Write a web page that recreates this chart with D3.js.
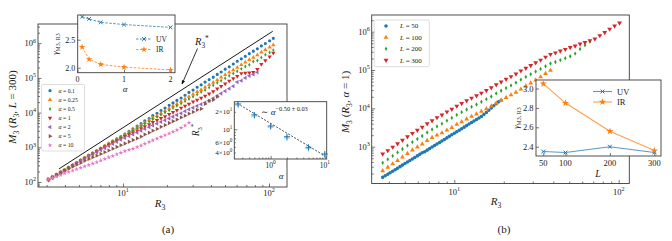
<!DOCTYPE html>
<html>
<head>
<meta charset="utf-8">
<script src="https://cdn.jsdelivr.net/npm/d3@7"></script>
<style>
  body { margin: 0; background: #fff; }
  svg { display: block; }
</style>
</head>
<body>
<script>
// ---------- panel (a): M3 vs R3 at L = 300, one series per alpha ----------
// M3 values are stored as log10(M3)
const alphaLabels = ["0.1", "0.25", "0.5", "1", "2", "5", "10"];
const rA = [3.09, 3.29, 3.51, 3.74, 3.98, 4.24, 4.52, 4.81, 5.13, 5.46, 5.82, 6.20, 6.61, 7.04, 7.50, 7.99, 8.51, 9.07, 9.66, 10.3,
  11.0, 11.7, 12.5, 13.3, 14.1, 15.1, 16.0, 17.1, 18.2, 19.4, 20.7, 22.0, 23.4, 25.0, 26.6, 28.3, 30.2, 32.2, 34.3, 36.5,
  38.9, 41.5, 44.2, 47.0, 50.1, 53.4, 56.9, 60.6, 64.6, 68.8, 73.3, 78.1, 83.2, 88.6, 94.4, 101, 107];
const logM_a01 = [2.08, 2.15, 2.22, 2.29, 2.35, 2.42, 2.49, 2.56, 2.63, 2.70, 2.77, 2.83, 2.90, 2.97, 3.04, 3.11, 3.18, 3.24, 3.31, 3.38,
  3.46, 3.53, 3.61, 3.68, 3.76, 3.83, 3.91, 3.98, 4.06, 4.13, 4.21, 4.28, 4.35, 4.42, 4.50, 4.58, 4.65, 4.73, 4.80, 4.88,
  4.95, 5.02, 5.10, 5.17, 5.25, 5.32, 5.40, 5.48, 5.55, 5.62, 5.70, 5.77, 5.84, 5.92, 5.99, 6.07, 6.14];
const logM_a025 = [2.07, 2.14, 2.21, 2.28, 2.34, 2.41, 2.48, 2.55, 2.62, 2.69, 2.76, 2.82, 2.89, 2.96, 3.03, 3.10, 3.17, 3.23, 3.30, 3.37,
  3.44, 3.50, 3.57, 3.64, 3.71, 3.78, 3.85, 3.91, 3.98, 4.05, 4.12, 4.19, 4.25, 4.32, 4.39, 4.46, 4.53, 4.60, 4.66, 4.73,
  4.80, 4.87, 4.94, 5.02, 5.09, 5.16, 5.23, 5.30, 5.38, 5.45, 5.52, 5.59, 5.66, 5.74, 5.81, 5.88, 5.95];
const logM_a05 = [2.07, 2.13, 2.20, 2.27, 2.34, 2.41, 2.48, 2.54, 2.61, 2.68, 2.75, 2.82, 2.89, 2.96, 3.02, 3.09, 3.15, 3.22, 3.28, 3.35,
  3.42, 3.48, 3.55, 3.61, 3.68, 3.74, 3.81, 3.87, 3.94, 4.00, 4.07, 4.13, 4.20, 4.26, 4.33, 4.39, 4.46, 4.52, 4.59, 4.65,
  4.72, 4.79, 4.86, 4.92, 4.99, 5.06, 5.13, 5.19, 5.26, 5.33, 5.38, 5.47, 5.50, 5.59, 5.67, 5.73, 5.80];
const logM_a1 = [2.06, 2.13, 2.20, 2.27, 2.33, 2.40, 2.47, 2.54, 2.61, 2.68, 2.75, 2.81, 2.88, 2.95, 3.01, 3.07, 3.13, 3.19, 3.25, 3.31,
  3.37, 3.42, 3.48, 3.54, 3.60, 3.66, 3.72, 3.78, 3.84, 3.89, 3.95, 4.01, 4.07, 4.13, 4.19, 4.25, 4.31, 4.36, 4.42, 4.48,
  4.54, 4.61, 4.69, 4.76, 4.83, 4.91, 4.98, 5.05, 5.13, 5.14, 5.15, 5.16, 5.25, 5.39, 5.50, 5.61, 5.72];
const logM_a2 = [2.06, 2.13, 2.20, 2.27, 2.33, 2.40, 2.47, 2.54, 2.61, 2.68, 2.75, 2.80, 2.86, 2.92, 2.98, 3.04, 3.10, 3.16, 3.22, 3.27,
  3.32, 3.37, 3.42, 3.48, 3.53, 3.58, 3.63, 3.68, 3.73, 3.78, 3.83, 3.88, 3.93, 3.98, 4.04, 4.09, 4.14, 4.19, 4.24, 4.29,
  4.34, 4.41, 4.48, 4.55, 4.62, 4.69, 4.76, 4.88, 4.92, 5.00, 5.06, 5.10, 5.16];
const logM_a5 = [2.08, 2.14, 2.20, 2.26, 2.33, 2.39, 2.45, 2.50, 2.55, 2.61, 2.66, 2.71, 2.76, 2.81, 2.86, 2.91, 2.96, 3.01, 3.06, 3.11,
  3.16, 3.21, 3.26, 3.31, 3.37, 3.42, 3.48, 3.53, 3.59, 3.64, 3.70, 3.75, 3.80, 3.86, 3.91, 3.97, 4.02, 4.08, 4.11, 4.25,
  4.34, 4.37, 4.46];
const logM_a10 = [2.08, 2.12, 2.16, 2.20, 2.25, 2.29, 2.33, 2.37, 2.41, 2.45, 2.49, 2.53, 2.57, 2.62, 2.66, 2.71, 2.75, 2.80, 2.84, 2.89,
  2.93, 2.96, 3.01, 3.05, 3.10, 3.15, 3.20, 3.25, 3.30, 3.35, 3.40, 3.45, 3.50, 3.56, 3.63, 3.71];
// straight guide line drawn above the data
const refR = [3.65, 106];
const refM = [240, 2.2e6];

// inset: gamma exponents vs alpha
const alphaGamma = [0.1, 0.25, 0.5, 1, 2];
const gammaUV_alpha = [2.91, 2.87, 2.81, 2.77, 2.72];
const gammaIR_alpha = [2.37, 2.15, 2.06, 2.01, 1.96];

// inset: crossover R3* vs alpha
const alphaStar = [0.25, 0.5, 1, 2, 5, 10];
const rStar = [27.3, 17.7, 11.4, 7.45, 4.9, 3.75];
const fitAlpha = [0.24, 10];
const fitRStar = [28, 3.5];

// ---------- panel (b): M3 vs R3 at alpha = 1, one series per L ----------
const rB = [3.67, 3.94, 4.22, 4.52, 4.84, 5.19, 5.56, 5.96, 6.38, 6.84, 7.33, 7.85, 8.41, 9.02, 9.66, 10.35, 11.09, 11.89, 12.74, 13.65,
  14.62, 15.67, 16.79, 17.99, 19.28, 20.65, 22.13, 23.71, 25.41, 27.23, 29.17, 31.26, 33.50, 35.89, 38.46, 41.21, 44.16, 47.32, 50.70, 54.33,
  58.21, 62.37, 66.83, 71.61, 76.74, 82.22, 88.10, 94.41, 101.2];
const rB50 = [3.67, 3.80, 3.94, 4.07, 4.22, 4.37, 4.52, 4.68, 4.84, 5.01, 5.19, 5.37, 5.56, 5.75, 5.96, 6.17, 6.38, 6.61, 6.84, 7.08,
  7.33, 7.59, 7.85, 8.13, 8.41, 8.71, 9.02, 9.33, 9.66, 10.0, 10.35, 10.72, 11.09, 11.48, 11.89, 12.30, 12.74, 13.18, 13.65, 14.13,
  14.62, 15.14, 15.67, 16.22, 16.79, 17.38, 17.99, 18.62, 19.28];
const lLabels = ["50", "100", "200", "300"];
const logM_L50 = [2.20, 2.24, 2.28, 2.32, 2.36, 2.40, 2.44, 2.48, 2.52, 2.56, 2.60, 2.64, 2.68, 2.72, 2.76, 2.80, 2.84, 2.87, 2.91, 2.95,
  2.99, 3.03, 3.07, 3.11, 3.15, 3.19, 3.23, 3.27, 3.31, 3.35, 3.39, 3.43, 3.47, 3.51, 3.55, 3.59, 3.63, 3.67, 3.71, 3.75,
  3.79, 3.84, 3.89, 3.95, 4.01, 4.07, 4.12, 4.17, 4.21];
const logM_L100 = [2.37, 2.46, 2.55, 2.64, 2.73, 2.82, 2.91, 2.99, 3.07, 3.16, 3.24, 3.30, 3.36, 3.43, 3.50, 3.58, 3.65, 3.72, 3.79, 3.85,
  3.92, 3.99, 4.06, 4.14, 4.21, 4.28, 4.35, 4.42, 4.50, 4.58, 4.66, 4.74, 4.82, 4.91, 4.99];
const logM_L200 = [2.58, 2.67, 2.76, 2.85, 2.94, 3.03, 3.12, 3.20, 3.28, 3.37, 3.45, 3.53, 3.60, 3.68, 3.75, 3.83, 3.90, 3.97, 4.04, 4.10,
  4.17, 4.24, 4.31, 4.39, 4.46, 4.53, 4.60, 4.67, 4.75, 4.82, 4.89, 4.96, 5.03, 5.10, 5.17, 5.21, 5.26, 5.31, 5.36, 5.43,
  5.55, 5.65, 5.74];
const logM_L300 = [2.81, 2.90, 2.99, 3.08, 3.17, 3.26, 3.35, 3.43, 3.51, 3.60, 3.68, 3.76, 3.83, 3.91, 3.98, 4.06, 4.13, 4.20, 4.27, 4.33,
  4.40, 4.47, 4.54, 4.62, 4.69, 4.76, 4.83, 4.90, 4.98, 5.05, 5.12, 5.19, 5.26, 5.34, 5.41, 5.45, 5.50, 5.54, 5.59, 5.63,
  5.68, 5.72, 5.77, 5.81, 5.90, 5.98, 6.07, 6.15, 6.23];

// inset: gamma exponents vs L
const lGamma = [50, 100, 200, 300];
const gammaUV_L = [2.35, 2.34, 2.40, 2.34];
const gammaIR_L = [3.05, 2.85, 2.56, 2.36];

const FRAME = "#3c3c3c";
const TXT = "#1a1a1a";
const C = { blue: "#1f77b4", orange: "#ff7f0e", green: "#2ca02c", red: "#d62728", purple: "#9467bd", brown: "#8c564b", pink: "#e377c2" };

var svg = d3.select("body").append("svg")
  .attr("width", 672).attr("height", 241)
  .style("font-family", '"Liberation Serif", "DejaVu Serif", serif');

// ---- little helpers ----
var I = t => ({ t: t, i: true }), N = t => ({ t: t }), B = t => ({ t: t, sub: true }), P = t => ({ t: t, sup: true });

// text with italic / sub / superscript pieces
function mtext(g, x, y, segs, fs, opts) {
  opts = opts || {};
  var t = g.append("text").attr("x", x).attr("y", y).attr("font-size", fs)
    .attr("text-anchor", opts.anchor || "start").attr("fill", TXT);
  if (opts.rotate) t.attr("transform", "rotate(" + opts.rotate + "," + x + "," + y + ")");
  var cur = 0;
  segs.forEach(function(s) {
    var size = fs, off = 0;
    if (s.sub) { size = fs * 0.7; off = fs * 0.28; }
    if (s.sup) { size = fs * (opts.supScale || 0.7); off = -fs * 0.42; }
    t.append("tspan").attr("dy", off - cur).attr("font-size", size)
      .attr("font-style", s.i ? "italic" : null).text(s.t);
    cur = off;
  });
  return t;
}

function logTickValues(scale) {
  var d = scale.domain(), lo = Math.min(d[0], d[1]), hi = Math.max(d[0], d[1]);
  var major = [], minor = [];
  for (var e = Math.floor(Math.log10(lo)); e <= Math.ceil(Math.log10(hi)); e++) {
    for (var k = 1; k < 10; k++) {
      var v = k * Math.pow(10, e);
      if (v < lo * 0.9999 || v > hi * 1.0001) continue;
      (k === 1 ? major : minor).push(v);
    }
  }
  return { major: major, minor: minor };
}

// inward ticks, no labels
function tickMarks(g, axis, vals, len, transform) {
  g.append("g").attr("transform", transform)
    .call(axis.tickValues(vals).tickSize(-len).tickFormat(""))
    .call(a => a.select(".domain").remove())
    .selectAll("line").attr("stroke", FRAME).attr("stroke-width", 0.7);
}

function frame(g, box, fill) {
  g.append("rect").attr("x", box.l).attr("y", box.t)
    .attr("width", box.r - box.l).attr("height", box.b - box.t)
    .attr("fill", fill || "none").attr("stroke", FRAME).attr("stroke-width", 0.9);
}

function markerPath(m, s) {
  var r = Math.sqrt(s) / 2;
  switch (m) {
    case "o": return d3.symbol(d3.symbolCircle, s)();
    case "^": case "v": case "<": case ">": return d3.symbol(d3.symbolTriangle, s)();
    case "d": return "M0," + (-1.25 * r) + "L" + (0.75 * r) + ",0L0," + (1.25 * r) + "L" + (-0.75 * r) + ",0Z";
    case "*": return d3.symbol(d3.symbolStar, s)();
    case "x": return "M" + (-r) + "," + (-r) + "L" + r + "," + r + "M" + (-r) + "," + r + "L" + r + "," + (-r);
    case "+": return "M" + (-r) + ",0H" + r + "M0," + (-r) + "V" + r;
  }
}
var markerRot = { "v": 180, "<": -90, ">": 90 };
var strokeMarker = { "x": true, "+": true };

function drawMarkers(g, pts, m, s, color) {
  var path = markerPath(m, s), rot = markerRot[m] || 0;
  g.selectAll(null).data(pts).enter().append("path")
    .attr("d", path)
    .attr("transform", d => "translate(" + d[0] + "," + d[1] + ")" + (rot ? " rotate(" + rot + ")" : ""))
    .attr("fill", strokeMarker[m] ? "none" : color)
    .attr("stroke", strokeMarker[m] ? color : "none")
    .attr("stroke-width", 1);
}

function powLabel(g, x, y, e, fs, anchor) {
  return mtext(g, x, y, [N("10"), P(String(e))], fs, { anchor: anchor, supScale: 0.72 });
}

// ======================= PANEL (a) =======================
var boxA = { l: 38, t: 24, r: 287, b: 187 };
var xA = d3.scaleLog().domain([2.617, 132.8]).range([boxA.l, boxA.r]);
var yA = d3.scaleLog().domain([71.8, 3.57e6]).range([boxA.b, boxA.t]);
var gA = svg.append("g");

svg.append("defs").append("clipPath").attr("id", "clipA").append("rect")
  .attr("x", boxA.l).attr("y", boxA.t).attr("width", boxA.r - boxA.l).attr("height", boxA.b - boxA.t);

var txA = logTickValues(xA), tyA = logTickValues(yA);
tickMarks(gA, d3.axisBottom(xA), txA.major, 3.5, "translate(0," + boxA.b + ")");
tickMarks(gA, d3.axisBottom(xA), txA.minor, 2, "translate(0," + boxA.b + ")");
tickMarks(gA, d3.axisLeft(yA), tyA.major, 3.5, "translate(" + boxA.l + ",0)");
tickMarks(gA, d3.axisLeft(yA), tyA.minor, 2, "translate(" + boxA.l + ",0)");
txA.major.forEach(v => powLabel(gA, xA(v), boxA.b + 9, Math.round(Math.log10(v)), 8.5, "middle"));
tyA.major.forEach(v => powLabel(gA, boxA.l - 2, yA(v) + 3, Math.round(Math.log10(v)), 8.5, "end"));

var seriesA = [
  { v: logM_a01, c: C.blue, m: "o", s: 8 },
  { v: logM_a025, c: C.orange, m: "^", s: 8 },
  { v: logM_a05, c: C.green, m: "d", s: 10 },
  { v: logM_a1, c: C.red, m: "v", s: 8 },
  { v: logM_a2, c: C.purple, m: "<", s: 8 },
  { v: logM_a5, c: C.brown, m: ">", s: 8 },
  { v: logM_a10, c: C.pink, m: "*", s: 7 }
];
var dataA = gA.append("g").attr("clip-path", "url(#clipA)");
seriesA.forEach(function(s) {
  var pts = s.v.map((lm, i) => [xA(rA[i]), yA(Math.pow(10, lm))]);
  drawMarkers(dataA, pts, s.m, s.s, s.c);
});

// guide line
gA.append("path")
  .attr("d", d3.line()(refR.map((r, i) => [xA(r), yA(refM[i])])))
  .attr("stroke", "#000").attr("stroke-width", 0.9).attr("fill", "none");

frame(gA, boxA);

// legend (a)
var legA = gA.append("g");
legA.append("rect").attr("x", 41.5).attr("y", 84.5).attr("width", 43).attr("height", 66.5)
  .attr("rx", 1.5).attr("fill", "#fff").attr("fill-opacity", 0.85).attr("stroke", "#d0d0d0").attr("stroke-width", 0.7);
seriesA.forEach(function(s, i) {
  var yy = 90.7 + i * 9.1;
  drawMarkers(legA, [[50, yy]], s.m, s.s, s.c);
  mtext(legA, 58.5, yy + 2, [I("α"), N(" = " + alphaLabels[i])], 5.8);
});

// axis labels (a)
mtext(gA, 160, 207, [I("R"), B("3")], 11, { anchor: "middle" });
mtext(gA, 16, 107, [I("M"), B("3"), N(" ("), I("R"), B("3"), N(", "), I("L"), N(" = 300)")], 11, { anchor: "middle", rotate: -90 });
gA.append("text").attr("x", 168).attr("y", 233).attr("text-anchor", "middle")
  .attr("font-size", 11).attr("fill", TXT).text("(a)");

// R3* annotation arrow
svg.append("defs").append("marker").attr("id", "arrowhead")
  .attr("viewBox", "0 0 10 10").attr("refX", 9).attr("refY", 5)
  .attr("markerWidth", 6).attr("markerHeight", 6).attr("orient", "auto")
  .append("path").attr("d", "M0,1 L10,5 L0,9 L3,5 Z").attr("fill", "#000");
gA.append("line").attr("x1", 197.5).attr("y1", 48.5).attr("x2", 182).attr("y2", 84)
  .attr("stroke", "#000").attr("stroke-width", 0.8).attr("marker-end", "url(#arrowhead)");
mtext(gA, 195, 45, [I("R"), B("3"), P("*")], 10.5);

// ---- inset 1: gamma vs alpha ----
var boxI1 = { l: 77.7, t: 15, r: 175, b: 72.7 };
var xI1 = d3.scaleLinear().domain([0.005, 2.095]).range([boxI1.l, boxI1.r]);
var yI1 = d3.scaleLinear().domain([1.911, 2.941]).range([boxI1.b, boxI1.t]);
var gI1 = svg.append("g");
frame(gI1, boxI1, "#fff");
tickMarks(gI1, d3.axisBottom(xI1), [0, 1, 2], 3, "translate(0," + boxI1.b + ")");
tickMarks(gI1, d3.axisLeft(yI1), [2.0, 2.5], 3, "translate(" + boxI1.l + ",0)");
[0, 1, 2].forEach(v => gI1.append("text").attr("x", xI1(v)).attr("y", boxI1.b + 9)
  .attr("text-anchor", "middle").attr("font-size", 8).attr("fill", TXT).text(v));
[2.0, 2.5].forEach(v => gI1.append("text").attr("x", boxI1.l - 2.5).attr("y", yI1(v) + 2.8)
  .attr("text-anchor", "end").attr("font-size", 8).attr("fill", TXT).text(v.toFixed(1)));
[[gammaUV_alpha, C.blue, "x", 14], [gammaIR_alpha, C.orange, "*", 13]].forEach(function(s) {
  var pts = s[0].map((g, i) => [xI1(alphaGamma[i]), yI1(g)]);
  gI1.append("path").attr("d", d3.line()(pts)).attr("fill", "none")
    .attr("stroke", s[1]).attr("stroke-width", 0.8).attr("stroke-dasharray", "2.5,1.5");
  drawMarkers(gI1, pts, s[2], s[3], s[1]);
});
[["UV", C.blue, "x", 14, 39], ["IR", C.orange, "*", 13, 49.5]].forEach(function(e) {
  gI1.append("line").attr("x1", 136).attr("x2", 152).attr("y1", e[4]).attr("y2", e[4])
    .attr("stroke", e[1]).attr("stroke-width", 0.8).attr("stroke-dasharray", "2.5,1.5");
  drawMarkers(gI1, [[144, e[4]]], e[2], e[3], e[1]);
  gI1.append("text").attr("x", 156).attr("y", e[4] + 2.8).attr("font-size", 7.5).attr("fill", TXT).text(e[0]);
});
mtext(gI1, 58, 44, [I("γ"), B("M"), B("3"), B(", R"), B("3")], 8.5, { anchor: "middle", rotate: -90 });
mtext(gI1, 125, 92, [I("α")], 9, { anchor: "middle" });

// ---- inset 2: R3* vs alpha ----
var boxI2 = { l: 234.3, t: 101.7, r: 326.7, b: 159 };
var xI2 = d3.scaleLog().domain([0.213, 10.84]).range([boxI2.l, boxI2.r]);
var yI2 = d3.scaleLog().domain([3.08, 29.9]).range([boxI2.b, boxI2.t]);
var gI2 = svg.append("g");
frame(gI2, boxI2, "#fff");
var txI2 = logTickValues(xI2), tyI2 = logTickValues(yI2);
tickMarks(gI2, d3.axisBottom(xI2), txI2.major, 3, "translate(0," + boxI2.b + ")");
tickMarks(gI2, d3.axisBottom(xI2), txI2.minor, 1.5, "translate(0," + boxI2.b + ")");
tickMarks(gI2, d3.axisLeft(yI2), tyI2.major, 3, "translate(" + boxI2.l + ",0)");
tickMarks(gI2, d3.axisLeft(yI2), tyI2.minor, 1.5, "translate(" + boxI2.l + ",0)");
txI2.major.forEach(v => powLabel(gI2, xI2(v), boxI2.b + 8.5, Math.round(Math.log10(v)), 7.5, "middle"));
[[4, "4×10", "0"], [6, "6×10", "0"], [10, "10", "1"], [20, "2×10", "1"]].forEach(function(t) {
  mtext(gI2, boxI2.l - 2, yI2(t[0]) + 2.5, [N(t[1]), P(t[2])], 7, { anchor: "end", supScale: 0.72 });
});
gI2.append("path")
  .attr("d", d3.line()(fitAlpha.map((a, i) => [xI2(a), yI2(fitRStar[i])])))
  .attr("stroke", "#222").attr("stroke-width", 0.8).attr("stroke-dasharray", "2,1.5").attr("fill", "none");
drawMarkers(gI2, alphaStar.map((a, i) => [xI2(a), yI2(rStar[i]) + 1.2]), "+", 40, "#9cc6e6");
drawMarkers(gI2, alphaStar.map((a, i) => [xI2(a), yI2(rStar[i])]), "+", 36, C.blue);
mtext(gI2, 261, 114.5, [N("∼ "), I("α"), P("−0.50 ± 0.03")], 9);
mtext(gI2, 199, 130, [I("R"), B("3"), P("*")], 9.5, { anchor: "middle", rotate: -90 });
mtext(gI2, 281, 179, [I("α")], 9, { anchor: "middle" });

// ======================= PANEL (b) =======================
var boxB = { l: 371.7, t: 15, r: 629.3, b: 183.5 };
var xB = d3.scaleLog().domain([3.146, 116]).range([boxB.l, boxB.r]);
var yB = d3.scaleLog().domain([109.6, 2.73e6]).range([boxB.b, boxB.t]);
var gB = svg.append("g");
svg.append("defs").append("clipPath").attr("id", "clipB").append("rect")
  .attr("x", boxB.l).attr("y", boxB.t).attr("width", boxB.r - boxB.l).attr("height", boxB.b - boxB.t);

var txB = logTickValues(xB), tyB = logTickValues(yB);
tickMarks(gB, d3.axisBottom(xB), txB.major, 3.5, "translate(0," + boxB.b + ")");
tickMarks(gB, d3.axisBottom(xB), txB.minor, 2, "translate(0," + boxB.b + ")");
tickMarks(gB, d3.axisLeft(yB), tyB.major, 3.5, "translate(" + boxB.l + ",0)");
tickMarks(gB, d3.axisLeft(yB), tyB.minor, 2, "translate(" + boxB.l + ",0)");
txB.major.forEach(v => powLabel(gB, xB(v), boxB.b + 11, Math.round(Math.log10(v)), 8.5, "middle"));
tyB.major.forEach(v => powLabel(gB, boxB.l - 2, yB(v) + 3, Math.round(Math.log10(v)), 8.5, "end"));

var seriesB = [
  { r: rB50, v: logM_L50, c: C.blue, m: "o", s: 10 },
  { r: rB, v: logM_L100, c: C.orange, m: "^", s: 10 },
  { r: rB, v: logM_L200, c: C.green, m: "d", s: 12 },
  { r: rB, v: logM_L300, c: C.red, m: "v", s: 10 }
];
var dataB = gB.append("g").attr("clip-path", "url(#clipB)");
seriesB.forEach(function(s) {
  var pts = s.v.map((lm, i) => [xB(s.r[i]), yB(Math.pow(10, lm))]);
  drawMarkers(dataB, pts, s.m, s.s, s.c);
});
frame(gB, boxB);

// legend (b)
var legB = gB.append("g");
legB.append("rect").attr("x", 374.3).attr("y", 20).attr("width", 55).attr("height", 46.7)
  .attr("rx", 1.5).attr("fill", "#fff").attr("fill-opacity", 0.85).attr("stroke", "#d0d0d0").attr("stroke-width", 0.7);
seriesB.forEach(function(s, i) {
  var yy = 26 + i * 11.4;
  drawMarkers(legB, [[386, yy]], s.m, s.s, s.c);
  mtext(legB, 400, yy + 2.4, [I("L"), N(" = " + lLabels[i])], 7);
});

mtext(gB, 496, 205, [I("R"), B("3")], 11, { anchor: "middle" });
mtext(gB, 349, 102, [I("M"), B("3"), N(" ("), I("R"), B("3"), N(", "), I("α"), N(" = 1)")], 11, { anchor: "middle", rotate: -90 });
gB.append("text").attr("x", 504).attr("y", 233).attr("text-anchor", "middle")
  .attr("font-size", 11).attr("fill", TXT).text("(b)");

// ---- inset 3: gamma vs L ----
var boxI3 = { l: 536, t: 80, r: 661, b: 156 };
var xI3 = d3.scaleLinear().domain([33.6, 315]).range([boxI3.l, boxI3.r]);
var yI3 = d3.scaleLinear().domain([2.304, 3.088]).range([boxI3.b, boxI3.t]);
var gI3 = svg.append("g");
frame(gI3, boxI3, "#fff");
tickMarks(gI3, d3.axisBottom(xI3), lGamma, 3, "translate(0," + boxI3.b + ")");
tickMarks(gI3, d3.axisLeft(yI3), [2.4, 2.6, 2.8, 3.0], 3, "translate(" + boxI3.l + ",0)");
lGamma.forEach(v => gI3.append("text").attr("x", xI3(v)).attr("y", boxI3.b + 9.5)
  .attr("text-anchor", "middle").attr("font-size", 8.5).attr("fill", TXT).text(v));
[2.4, 2.6, 2.8, 3.0].forEach(v => gI3.append("text").attr("x", boxI3.l - 2.5).attr("y", yI3(v) + 3)
  .attr("text-anchor", "end").attr("font-size", 8.5).attr("fill", TXT).text(v.toFixed(1)));
[[gammaUV_L, C.blue, "x", 14], [gammaIR_L, C.orange, "*", 16]].forEach(function(s) {
  var pts = s[0].map((g, i) => [xI3(lGamma[i]), yI3(g)]);
  gI3.append("path").attr("d", d3.line()(pts)).attr("fill", "none")
    .attr("stroke", s[1]).attr("stroke-width", 1.1).attr("stroke-opacity", 0.75);
  drawMarkers(gI3, pts, s[2], s[3], s[1]);
});
[["UV", C.blue, "x", 14, 91.5], ["IR", C.orange, "*", 16, 102]].forEach(function(e) {
  gI3.append("line").attr("x1", 593).attr("x2", 612).attr("y1", e[4]).attr("y2", e[4])
    .attr("stroke", e[1]).attr("stroke-width", 1.1).attr("stroke-opacity", 0.75);
  drawMarkers(gI3, [[602.5, e[4]]], e[2], e[3], e[1]);
  gI3.append("text").attr("x", 617).attr("y", e[4] + 3).attr("font-size", 8.5).attr("fill", TXT).text(e[0]);
});
mtext(gI3, 519, 118, [I("γ"), B("M"), B("3"), B(", R"), B("3")], 8.5, { anchor: "middle", rotate: -90 });
mtext(gI3, 598, 177, [I("L")], 10, { anchor: "middle" });
</script>
</body>
</html>
